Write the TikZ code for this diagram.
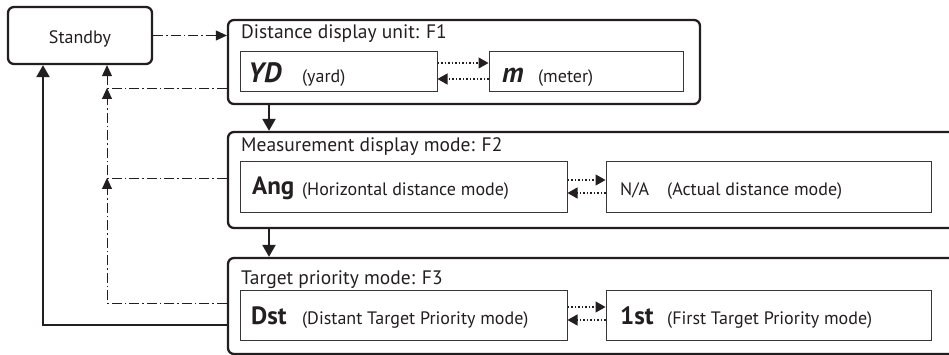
\documentclass[tikz,border=0pt]{standalone}
\usepackage{fontspec}
\setmainfont{PT Sans}
\usetikzlibrary{arrows.meta}
\definecolor{ink}{HTML}{231F20}
\definecolor{boxline}{HTML}{3A3637}
\begin{document}
\begin{tikzpicture}[x=1pt,y=-1pt,
  every node/.style={text=ink},
  outer/.style={draw=ink,line width=2.3pt,rounded corners=6pt,inner sep=0pt,anchor=center},
  inner/.style={draw=boxline,line width=1pt,inner sep=0pt,anchor=center},
  title/.style={anchor=base west,inner sep=0pt,font=\fontsize{19.5}{23}\selectfont},
  sub/.style={anchor=base west,inner sep=0pt,font=\fontsize{18}{21}\selectfont},
  big/.style={anchor=base west,inner sep=0pt,font=\fontsize{25}{29}\selectfont\bfseries},
  bigit/.style={anchor=base west,inner sep=0pt,font=\fontsize{28}{32}\selectfont\bfseries\itshape},
  solidc/.style={draw=ink,line width=2.3pt,-{Triangle[length=12pt,width=13pt]}},
  dashdot/.style={draw=ink,line width=0.9pt,dash pattern=on 10pt off 3pt on 1.5pt off 3pt,-{Triangle[length=11pt,width=10pt]}},
  dotc/.style={draw=ink,line width=1.2pt,dash pattern=on 1.5pt off 2pt,-{Triangle[length=10pt,width=11pt]}}
]
\clip (0,0) rectangle (949,355);
\fill[white] (0,0) rectangle (949,355);
% boxes
\node[outer,minimum width=144pt,minimum height=57pt] (standby) at (80,35.5) {};
\node[anchor=base,inner sep=0pt,font=\fontsize{18}{21}\selectfont] (standbyt) at (80,44) {Standby};
\node[outer,minimum width=472pt,minimum height=84pt] (F1) at (464,62) {};
\node[outer,minimum width=742pt,minimum height=96pt] (F2) at (599,180) {};
\node[outer,minimum width=742pt,minimum height=96pt] (F3) at (599,306) {};
% titles
\node[title] (t1) at (241,39) {Distance display unit: F1};
\node[title] (t2) at (241,152) {Measurement display mode: F2};
\node[title] (t3) at (241,284) {Target priority mode: F3};
% inner boxes
\node[inner,minimum width=197pt,minimum height=40pt] (YD) at (338.5,72) {};
\node[inner,minimum width=194pt,minimum height=40pt] (M) at (586,72) {};
\node[inner,minimum width=327pt,minimum height=51pt] (Ang) at (403.5,187.5) {};
\node[inner,minimum width=325pt,minimum height=51pt] (NA) at (768.5,187.5) {};
\node[inner,minimum width=327pt,minimum height=50pt] (Dst) at (403.5,315) {};
\node[inner,minimum width=325pt,minimum height=50pt] (First) at (768.5,315) {};
% inner texts
\node[bigit] (yd1) at (248,83) {YD};
\node[sub] (yd2) at (302,83) {(yard)};
\node[bigit] (m1) at (502,83) {m};
\node[sub] (m2) at (538,83) {(meter)};
\node[big] (a1) at (252,195) {Ang};
\node[sub] (a2) at (302,196) {(Horizontal distance mode)};
\node[sub] (n1) at (620,196) {N/A};
\node[sub] (n2) at (667,196) {(Actual distance mode)};
\node[big] (d1t) at (251,324) {Dst};
\node[sub] (d2t) at (302,324) {(Distant Target Priority mode)};
\node[big] (f1t) at (620,324) {1st};
\node[sub] (f2t) at (667,324) {(First Target Priority mode)};
% forward connectors
\coordinate (cx) at (269,0);
\draw[dashdot] (standby.east) -- (standby.east -| F1.west);
\draw[solidc] (F1.south -| cx) -- (F2.north -| cx);
\draw[solidc] (F2.south -| cx) -- (F3.north -| cx);
% dotted toggles
\draw[dotc] ([yshift=9pt]YD.east) -- ([yshift=9pt]M.west);
\draw[dotc] ([yshift=-7pt]M.west) -- ([yshift=-7pt]YD.east);
\draw[dotc] ([yshift=7.5pt]Ang.east) -- ([yshift=7.5pt]NA.west);
\draw[dotc] ([yshift=-5.5pt]NA.west) -- ([yshift=-5.5pt]Ang.east);
\draw[dotc] ([yshift=8pt]Dst.east) -- ([yshift=8pt]First.west);
\draw[dotc] ([yshift=-5pt]First.west) -- ([yshift=-5pt]Dst.east);
% return paths
\coordinate (r1) at (43,325);
\draw[solidc] (r1 -| F3.west) -- (r1) -- (r1 |- standby.south);
\coordinate (q3) at (107,303);
\coordinate (q2) at (107,178);
\coordinate (q1) at (107,88);
\draw[dashdot] (q3 -| F3.west) -- (q3) -- (q2);
\draw[dashdot] (q2 -| F2.west) -- (q2) -- (q1);
\draw[dashdot] (q1 -| F1.west) -- (q1) -- (q1 |- standby.south);
\end{tikzpicture}
\end{document}
